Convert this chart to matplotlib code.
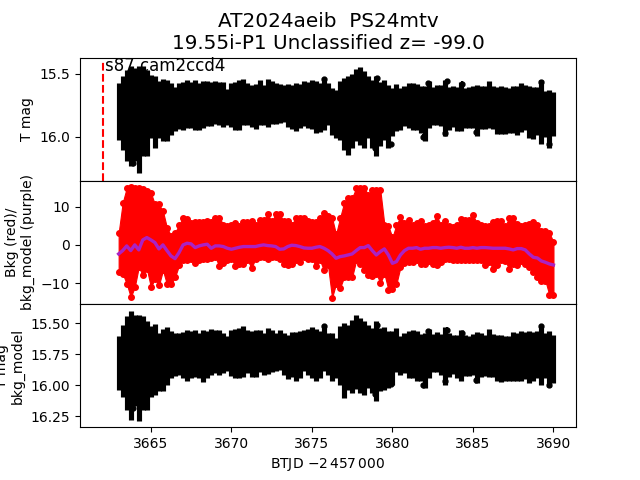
import numpy as np
import matplotlib
matplotlib.use('Agg')
import matplotlib.pyplot as plt

# epochs
t = [3663.00, 3663.25, 3663.50, 3663.75, 3664.00, 3664.25, 3664.50, 3664.75, 3665.00, 3665.25, 3665.50, 3665.75,
     3666.00, 3666.25, 3666.50, 3666.75, 3667.00, 3667.25, 3667.50, 3667.75, 3668.00, 3668.25, 3668.50, 3668.75,
     3669.00, 3669.25, 3669.50, 3669.75, 3670.00, 3670.25, 3670.50, 3670.75, 3671.00, 3671.25, 3671.50, 3671.75,
     3672.00, 3672.25, 3672.50, 3672.75, 3673.00, 3673.25, 3673.50, 3673.75, 3674.00, 3674.25, 3674.50, 3674.75,
     3675.00, 3675.25, 3675.50, 3675.75, 3676.00, 3676.25, 3676.50, 3676.75, 3677.00, 3677.25, 3677.50, 3677.75,
     3678.00, 3678.25, 3678.50, 3678.75, 3679.00, 3679.25, 3679.50, 3679.75, 3680.00, 3680.25, 3680.50, 3680.75,
     3681.00, 3681.25, 3681.50, 3681.75, 3682.00, 3682.25, 3682.50, 3682.75, 3683.00, 3683.25, 3683.50, 3683.75,
     3684.00, 3684.25, 3684.50, 3684.75, 3685.00, 3685.25, 3685.50, 3685.75, 3686.00, 3686.25, 3686.50, 3686.75,
     3687.00, 3687.25, 3687.50, 3687.75, 3688.00, 3688.25, 3688.50, 3688.75, 3689.00, 3689.25, 3689.50, 3689.75,
     3690.00]

# T mag panel, top and bottom of the error bars
mag_top = [15.575, 15.522, 15.474, 15.437, 15.455, 15.442, 15.442, 15.474, 15.508, 15.522, 15.561, 15.543,
           15.553, 15.575, 15.606, 15.575, 15.569, 15.553, 15.567, 15.553, 15.575, 15.561, 15.561, 15.569,
           15.561, 15.569, 15.569, 15.622, 15.575, 15.567, 15.548, 15.543, 15.575, 15.588, 15.580, 15.553,
           15.588, 15.543, 15.561, 15.575, 15.580, 15.588, 15.582, 15.588, 15.575, 15.580, 15.561, 15.567,
           15.548, 15.561, 15.575, 15.535, 15.575, 15.614, 15.627, 15.561, 15.535, 15.522, 15.500, 15.463,
           15.448, 15.482, 15.516, 15.553, 15.516, 15.569, 15.548, 15.588, 15.614, 15.580, 15.614, 15.596,
           15.575, 15.575, 15.580, 15.601, 15.596, 15.561, 15.606, 15.588, 15.588, 15.548, 15.606, 15.601,
           15.606, 15.569, 15.614, 15.606, 15.596, 15.588, 15.601, 15.596, 15.561, 15.596, 15.606, 15.601,
           15.606, 15.614, 15.596, 15.601, 15.575, 15.588, 15.596, 15.606, 15.606, 15.553, 15.641, 15.633,
           15.649]
mag_bot = [16.024, 16.104, 16.196, 16.236, 16.196, 16.289, 16.157, 16.157, 16.011, 16.090, 16.011, 16.037,
           16.037, 15.985, 15.958, 15.940, 15.945, 15.932, 15.932, 15.945, 15.950, 15.932, 15.918, 15.913,
           15.897, 15.905, 15.924, 15.905, 15.924, 15.945, 15.945, 15.905, 15.905, 15.924, 15.937, 15.905,
           15.905, 15.924, 15.897, 15.897, 15.892, 15.887, 15.924, 15.940, 15.958, 15.932, 15.913, 15.932,
           15.940, 15.971, 15.966, 15.945, 15.905, 15.985, 16.011, 16.024, 16.104, 16.143, 16.090, 16.037,
           16.064, 16.090, 16.011, 16.090, 16.157, 16.077, 16.024, 16.090, 15.998, 15.958, 15.945, 15.913,
           15.932, 15.945, 15.945, 15.971, 16.037, 15.932, 15.905, 15.905, 15.913, 15.998, 15.945, 15.924,
           15.958, 15.958, 15.932, 15.932, 15.932, 15.993, 15.940, 15.940, 15.932, 15.940, 15.977, 15.977,
           15.977, 15.971, 15.971, 15.985, 15.966, 15.945, 16.011, 16.019, 15.985, 16.056, 16.003, 16.090,
           15.993]

# background, upper and lower edge of the red points
bkg_top = [3.15, 11.05, 14.92, 15.18, 14.92, 14.92, 14.56, 14.12, 13.68, 10.61, 10.61, 8.85,
           4.47, 2.45, 3.15, 5.34, 7.10, 6.84, 5.78, 5.96, 5.96, 5.96, 6.22, 5.96,
           7.10, 7.10, 5.34, 5.08, 5.34, 5.78, 5.08, 5.96, 5.96, 6.22, 5.34, 6.49,
           6.49, 7.98, 6.22, 7.98, 7.98, 6.22, 6.22, 5.34, 7.10, 7.10, 7.10, 6.22,
           5.96, 5.96, 7.10, 8.24, 7.54, 7.10, 2.79, 7.10, 11.05, 12.37, 12.37, 14.92,
           14.92, 14.92, 13.16, 14.48, 14.48, 14.30, 5.34, 4.91, 1.96, 5.34, 7.27, 5.78,
           6.49, 5.34, 5.78, 6.22, 4.91, 5.34, 5.78, 7.54, 5.34, 6.22, 5.08, 4.73,
           5.34, 6.67, 6.49, 6.49, 7.71, 5.78, 5.34, 4.91, 5.08, 5.96, 6.22, 6.22,
           4.91, 7.10, 7.10, 5.52, 5.08, 5.34, 5.52, 5.96, 5.34, 3.58, 3.58, 3.15,
           0.72]
bkg_bot = [-7.11, -7.55, -10.18, -13.69, -11.06, -5.79, -7.99, -6.23, -11.06, -8.86, -10.62, -6.67,
           -10.36, -10.36, -8.43, -5.36, -4.04, -3.86, -3.60, -4.74, -4.04, -3.60, -3.60, -3.34,
           -3.16, -5.62, -4.74, -4.04, -3.60, -5.62, -5.09, -5.09, -4.04, -5.97, -3.60, -3.16,
           -3.16, -3.60, -3.16, -3.16, -3.60, -4.92, -5.36, -5.09, -3.86, -4.48, -3.16, -3.60,
           -3.60, -5.62, -4.04, -6.67, -5.36, -13.87, -10.18, -11.23, -8.43, -8.43, -8.43, -4.04,
           -5.09, -6.50, -7.99, -8.25, -7.55, -10.00, -7.55, -11.76, -11.50, -10.18, -5.79, -4.74,
           -4.48, -4.48, -4.04, -5.09, -5.09, -4.21, -5.09, -5.36, -4.48, -3.60, -3.60, -3.86,
           -3.86, -3.86, -3.86, -3.86, -4.04, -3.86, -3.86, -5.36, -4.48, -6.23, -5.36, -4.04,
           -4.21, -6.23, -5.09, -5.36, -4.21, -5.09, -5.79, -7.11, -8.43, -9.40, -9.40, -13.25,
           -13.25]
bkg_model = [-2.37, -1.50, -0.27, -1.50, 0.00, -1.32, 1.31, 1.92, 1.31, 0.61, -1.06, 0.00,
             -1.50, -2.90, -3.60, -2.02, 0.00, 0.43, 0.26, -0.71, -0.27, 0.00, 0.17, -0.88,
             -0.27, -0.27, -0.44, -0.88, -1.15, -0.88, -0.62, -0.44, -0.44, -0.44, -0.44, -0.18,
             0.00, -0.18, -0.27, -0.44, -1.15, -1.06, -0.44, -0.09, -0.18, -0.44, -0.79, -0.88,
             -0.88, -0.62, -0.44, -0.88, -1.50, -2.37, -3.51, -3.08, -2.90, -2.64, -2.37, -1.50,
             -0.71, -0.71, -0.18, -1.50, -2.64, -1.76, -1.06, -2.64, -4.83, -4.39, -2.64, -1.50,
             -0.88, -0.88, -0.71, -1.15, -0.88, -0.88, -0.71, -0.71, -0.88, -0.71, -0.62, -0.71,
             -0.88, -0.62, -0.88, -0.88, -0.71, -0.88, -0.71, -0.71, -0.79, -0.88, -0.88, -0.88,
             -0.88, -1.06, -1.32, -0.97, -0.97, -1.32, -2.37, -3.25, -3.43, -4.22, -4.57, -5.00,
             -5.27]

# T mag minus bkg_model panel
sub_top = [15.608, 15.514, 15.447, 15.406, 15.433, 15.433, 15.447, 15.487, 15.522, 15.506, 15.581, 15.549,
           15.533, 15.567, 15.581, 15.581, 15.576, 15.554, 15.567, 15.554, 15.581, 15.559, 15.567, 15.549,
           15.559, 15.554, 15.581, 15.608, 15.554, 15.549, 15.541, 15.527, 15.554, 15.567, 15.554, 15.554,
           15.581, 15.541, 15.559, 15.581, 15.559, 15.581, 15.594, 15.576, 15.576, 15.567, 15.554, 15.549,
           15.533, 15.549, 15.567, 15.514, 15.581, 15.581, 15.621, 15.527, 15.500, 15.514, 15.473, 15.433,
           15.460, 15.487, 15.514, 15.541, 15.487, 15.541, 15.533, 15.567, 15.567, 15.541, 15.608, 15.581,
           15.567, 15.554, 15.567, 15.586, 15.581, 15.549, 15.586, 15.576, 15.586, 15.533, 15.581, 15.594,
           15.594, 15.559, 15.594, 15.602, 15.586, 15.576, 15.581, 15.594, 15.549, 15.586, 15.594, 15.594,
           15.602, 15.602, 15.576, 15.581, 15.567, 15.576, 15.567, 15.576, 15.567, 15.527, 15.581, 15.567,
           15.594]
sub_bot = [16.038, 16.092, 16.199, 16.280, 16.172, 16.293, 16.199, 16.199, 16.092, 16.078, 16.051, 16.051,
           15.998, 15.944, 15.930, 15.917, 15.944, 15.963, 15.944, 15.936, 15.944, 15.979, 15.944, 15.917,
           15.904, 15.917, 15.904, 15.890, 15.925, 15.944, 15.944, 15.936, 15.904, 15.936, 15.936, 15.898,
           15.917, 15.909, 15.898, 15.890, 15.877, 15.917, 15.952, 15.936, 15.971, 15.944, 15.890, 15.917,
           15.944, 15.963, 15.944, 15.890, 15.917, 15.963, 15.944, 15.998, 16.105, 16.043, 16.065, 16.033,
           16.065, 16.078, 16.024, 16.065, 16.132, 16.051, 16.043, 16.024, 15.998, 15.898, 15.917, 15.904,
           15.944, 15.944, 15.963, 15.971, 16.024, 15.944, 15.898, 15.898, 15.917, 15.998, 15.936, 15.909,
           15.944, 15.963, 15.930, 15.925, 15.917, 15.984, 15.936, 15.930, 15.936, 15.936, 15.971, 15.979,
           15.971, 15.963, 15.963, 15.971, 15.963, 15.952, 15.984, 15.971, 15.944, 15.998, 15.944, 16.016,
           15.984]

# single points that stand out of the band
out_t = [3663.90, 3664.40, 3675.74, 3678.93, 3679.04, 3679.90, 3681.88, 3682.20, 3683.26, 3683.36, 3684.30, 3685.20, 3689.20, 3689.75]
out_mag = [16.21, 16.08, 15.543, 16.09, 15.535, 16.06, 16.00, 15.575, 15.97, 15.56, 15.58, 15.96, 15.569, 16.06]
out_sub = [16.186, 16.124, 15.527, 16.07, 15.52, 15.99, 16.00, 15.567, 15.97, 15.554, 15.58, 15.96, 15.527, 16.00]

t = np.array(t)
mag_top, mag_bot = np.array(mag_top), np.array(mag_bot)
sub_top, sub_bot = np.array(sub_top), np.array(sub_bot)

fig, (ax1, ax2, ax3) = plt.subplots(3, 1, sharex=True, figsize=(6.4, 4.8))
fig.subplots_adjust(hspace=0)

ax1.errorbar(t, (mag_top + mag_bot) / 2, yerr=(mag_bot - mag_top) / 2, fmt='none', ecolor='k', elinewidth=3.7)
ax1.errorbar(out_t, out_mag, yerr=0.018, fmt='k.', elinewidth=1.5, ms=7)
ax1.plot([3662, 3662], [16.35, 15.405], 'r--')
ax1.text(3662.15, 15.476, 's87 cam2ccd4', fontsize=12)
ax1.set_ylim(16.35, 15.373)
ax1.set_yticks([15.5, 16.0])
ax1.set_yticklabels(['15.5', '16.0'])
ax1.set_ylabel('T mag')
ax1.set_title('AT2024aeib  PS24mtv\n19.55i-P1 Unclassified z= -99.0', fontsize=14.4)

ax2.fill_between(t, bkg_top, bkg_bot, color='r', lw=0.8)
ax2.plot(t, bkg_top, 'r.', ms=8)
ax2.plot(t, bkg_bot, 'r.', ms=8)
ax2.plot(t, bkg_model, color='#aa22c4', lw=2.4)
ax2.set_ylim(-15.5, 16.8)
ax2.set_yticks([-10, 0, 10])
ax2.set_ylabel('Bkg (red)/\nbkg_model (purple)')

ax3.errorbar(t, (sub_top + sub_bot) / 2, yerr=(sub_bot - sub_top) / 2, fmt='none', ecolor='k', elinewidth=3.7)
ax3.errorbar(out_t, out_sub, yerr=0.018, fmt='k.', elinewidth=1.5, ms=7)
ax3.set_ylim(16.339, 15.347)
ax3.set_yticks([15.5, 15.75, 16.0, 16.25])
ax3.set_yticklabels(['15.50', '15.75', '16.00', '16.25'])
ax3.set_ylabel('T mag\nbkg_model')
ax3.set_xlim(3660.6, 3691.4)
ax3.set_xticks([3665, 3670, 3675, 3680, 3685, 3690])
ax3.set_xlabel(r'BTJD $-2\,457\,000$')

fig.savefig('out.png', dpi=100)
